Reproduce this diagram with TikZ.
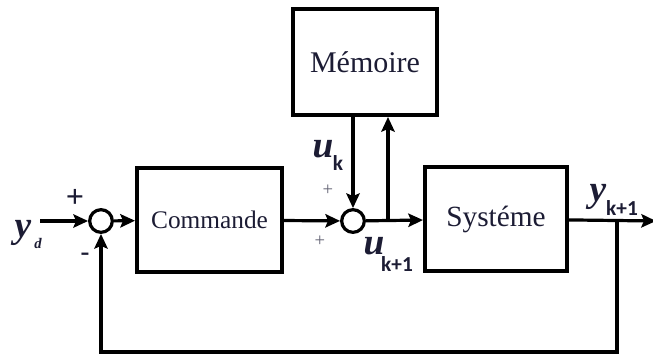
\documentclass[tikz,border=0pt]{standalone}
\usepackage{fontspec}
\setmainfont{Liberation Serif}
\newfontfamily\subfont{Carlito}
\usetikzlibrary{arrows.meta}
\definecolor{txt}{HTML}{1C1C34}
\begin{document}
\begin{tikzpicture}[x=0.75pt,y=-0.75pt,
  blockbox/.style={draw, line width=3pt, rectangle, text=txt, inner sep=0pt},
  sumnode/.style={draw, line width=2.4pt, circle, minimum size=17pt, inner sep=0pt},
  sig/.style={line width=2.4pt},
  arr/.style={sig, -{Stealth[length=11pt,width=10pt,inset=2pt]}},
  lbl/.style={text=txt, inner sep=0pt},
  sgn/.style={text=txt!70, inner sep=0pt, font=\fontsize{14pt}{14pt}\selectfont}]
\useasboundingbox (0,0) rectangle (653,358);
% blocks
\node[blockbox, minimum width=108.75pt, minimum height=78pt, font=\fontsize{19pt}{20pt}\selectfont] (cmd) at (209.5,220) {Commande};
\node[blockbox, minimum width=108pt, minimum height=79.5pt, font=\fontsize{22.5pt}{23pt}\selectfont] (mem) at (365,62) {Mémoire};
\node[blockbox, minimum width=106.5pt, minimum height=78pt, font=\fontsize{22pt}{23pt}\selectfont] (sys) at (496,219) {Systéme};
% summing junctions
\node[sumnode] (s1) at (101,221) {};
\node[sumnode] (s2) at (353,221) {};
% coordinates
\coordinate (in) at (40,221);
\coordinate (br) at (388,221);
\coordinate (tap) at (617,221);
\coordinate (out) at (656,221);
\coordinate (fbr) at (617,352);
\coordinate (fbl) at (101,352);
% connectors
\draw[arr] (in) -- (s1);
\draw[arr] (s1) -- (cmd);
\draw[arr] (cmd) -- (s2);
\draw[arr] (s2) -- (sys);
\draw[arr] (br) -- (br |- mem.south);
\draw[arr] (s2 |- mem.south) -- (s2);
\draw[arr] (sys) -- (out);
\draw[arr] (tap) -- (fbr) -- (fbl) -- (s1);
% labels
\node[lbl, font=\fontsize{28pt}{28pt}\selectfont\bfseries\itshape] (ydl) at (23,233) {y};
\node[lbl, font=\fontsize{11pt}{11pt}\selectfont\bfseries\itshape] (yds) at (38,243) {d};
\node[lbl, font=\fontsize{28pt}{28pt}\selectfont\bfseries\itshape] (ukl) at (323,149) {u};
\node[lbl, font=\fontsize{16pt}{16pt}\selectfont\subfont\bfseries] (uks) at (338,163) {k};
\node[lbl, font=\fontsize{28pt}{28pt}\selectfont\bfseries\itshape] (uk1l) at (374,246) {u};
\node[lbl, font=\fontsize{16pt}{16pt}\selectfont\subfont\bfseries] (uk1s) at (397,264) {k+1};
\node[lbl, font=\fontsize{28pt}{28pt}\selectfont\bfseries\itshape] (yk1l) at (598,197) {y};
\node[lbl, font=\fontsize{16pt}{16pt}\selectfont\subfont\bfseries] (yk1s) at (622,208) {k+1};
% signs
\node[lbl, font=\fontsize{24pt}{24pt}\selectfont\bfseries] (p1) at (75,198) {+};
\node[lbl, font=\fontsize{20pt}{20pt}\selectfont\bfseries] (m1) at (85,257) {-};
\node[sgn] (p2) at (328,190) {+};
\node[sgn] (p3) at (320,241) {+};
\end{tikzpicture}
\end{document}
